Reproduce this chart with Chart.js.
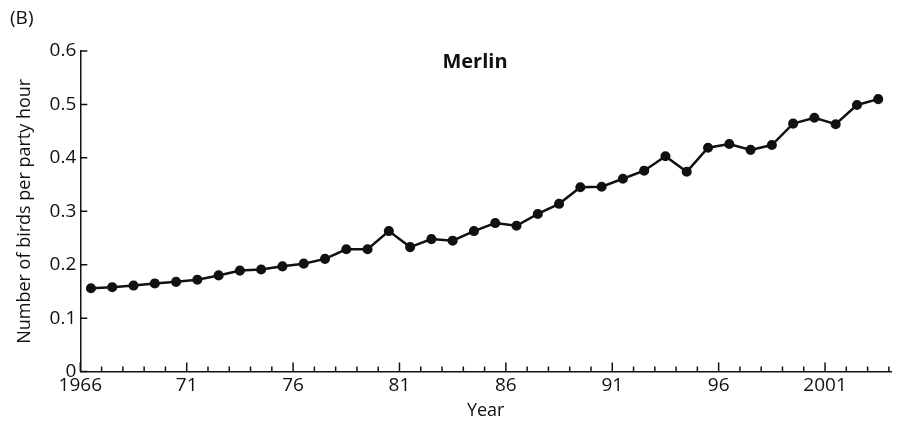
<!DOCTYPE html>
<html>
<head>
<meta charset="utf-8">
<script src="https://cdn.jsdelivr.net/npm/chart.js@4/dist/chart.umd.min.js"></script>
<style>
  html, body { margin: 0; padding: 0; background: #fff; }
  #wrap { width: 899px; height: 422px; }
</style>
</head>
<body>
<div id="wrap"><canvas id="merlin" width="899" height="422"></canvas></div>
<script>
// survey years and counts (birds per party hour)
const years = [1966, 1967, 1968, 1969, 1970, 1971, 1972, 1973, 1974, 1975,
    1976, 1977, 1978, 1979, 1980, 1981, 1982, 1983, 1984, 1985,
    1986, 1987, 1988, 1989, 1990, 1991, 1992, 1993, 1994, 1995,
    1996, 1997, 1998, 1999, 2000, 2001, 2002, 2003];
const birds = [0.156, 0.158, 0.161, 0.165, 0.168, 0.172, 0.180, 0.189, 0.191, 0.197,
    0.202, 0.211, 0.229, 0.229, 0.263, 0.233, 0.248, 0.245, 0.263, 0.278,
    0.273, 0.295, 0.314, 0.345, 0.346, 0.361, 0.376, 0.403, 0.374, 0.419,
    0.426, 0.415, 0.424, 0.464, 0.475, 0.463, 0.499, 0.510];
const xTicks = [1966, 1971, 1976, 1981, 1986, 1991, 1996, 2001];
const yTicks = [0, 0.1, 0.2, 0.3, 0.4, 0.5, 0.6];

const font = "'Open Sans', sans-serif";

// tick marks point inward, plus panel letter and title
const extras = {
    id: 'extras',
    afterDraw(chart) {
        const c = chart.ctx;
        const xs = chart.scales.x, ys = chart.scales.y;
        const area = chart.chartArea;
        c.save();
        c.strokeStyle = '#111';
        c.lineWidth = 1.5;
        c.beginPath();
        for (let yr = 1966; yr <= 2004; yr++) {
            const px = xs.getPixelForValue(yr);
            const len = xTicks.includes(yr) ? 9 : 5;
            c.moveTo(px, area.bottom);
            c.lineTo(px, area.bottom - len);
        }
        yTicks.forEach(v => {
            const py = ys.getPixelForValue(v);
            c.moveTo(area.left, py);
            c.lineTo(area.left + 7, py);
        });
        c.stroke();
        c.fillStyle = '#111';
        c.textBaseline = 'middle';
        c.textAlign = 'left';
        c.font = '19px ' + font;
        c.fillText('(B)', 10, 19);
        c.textAlign = 'center';
        c.font = 'bold 20px ' + font;
        c.fillText('Merlin', 475, 62);
        c.restore();
    }
};

new Chart(document.getElementById('merlin').getContext('2d'), {
    type: 'line',
    data: {
        datasets: [{
            label: 'Merlin',
            data: years.map((y, i) => ({ x: y + 0.5, y: birds[i] })),
            borderColor: '#111',
            backgroundColor: '#111',
            borderWidth: 2.5,
            pointRadius: 3.8,
            pointHoverRadius: 3.8,
            tension: 0
        }]
    },
    options: {
        responsive: false,
        animation: false,
        layout: { padding: { top: 51, right: 8, left: 14, bottom: 0 } },
        plugins: {
            legend: { display: false },
            tooltip: { enabled: false }
        },
        scales: {
            x: {
                type: 'linear',
                min: 1966,
                max: 2004.1,
                grid: { display: false, drawTicks: false },
                border: { display: true, color: '#111', width: 1.5 },
                afterBuildTicks: s => { s.ticks = xTicks.map(v => ({ value: v })); },
                ticks: {
                    color: '#111',
                    font: { family: font, size: 19 },
                    padding: 3,
                    maxRotation: 0,
                    autoSkip: false,
                    callback: v => (v === 1966 || v === 2001) ? String(v) : String(v).slice(2)
                },
                title: {
                    display: true,
                    text: 'Year',
                    color: '#111',
                    font: { family: font, size: 18 },
                    padding: { top: 0, bottom: 0 }
                }
            },
            y: {
                min: 0,
                max: 0.6,
                grid: { display: false, drawTicks: false },
                border: { display: true, color: '#111', width: 1.5 },
                afterBuildTicks: s => { s.ticks = yTicks.map(v => ({ value: v })); },
                ticks: {
                    color: '#111',
                    font: { family: font, size: 19 },
                    padding: 4,
                    callback: v => v === 0 ? '0' : v.toFixed(1)
                },
                title: {
                    display: true,
                    text: 'Number of birds per party hour',
                    color: '#111',
                    font: { family: font, size: 18 },
                    padding: { top: 0, bottom: 10 }
                }
            }
        }
    },
    plugins: [extras]
});
</script>
</body>
</html>
